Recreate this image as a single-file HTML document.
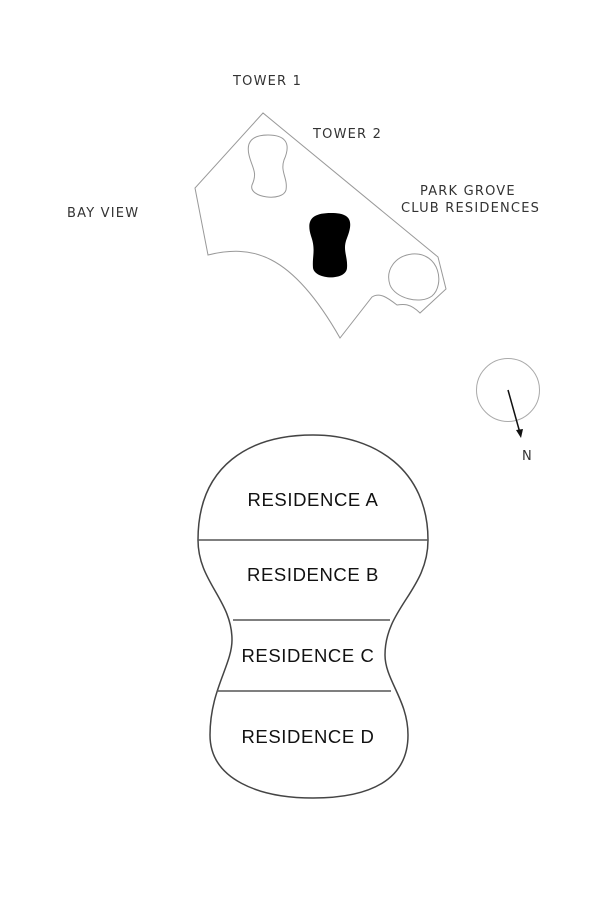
<!DOCTYPE html>
<html><head><style>
html,body{margin:0;padding:0;background:#fff;}
svg{display:block;}
.l{font-family:"DejaVu Sans","Liberation Sans",sans-serif;font-size:13px;fill:#333;letter-spacing:1.2px;}
.r{font-family:"Liberation Sans",sans-serif;font-size:18.5px;fill:#111;letter-spacing:0.6px;}
</style></head><body>
<svg width="612" height="900" viewBox="0 0 612 900" xmlns="http://www.w3.org/2000/svg">
<text class="l" x="233" y="85">TOWER 1</text>
<text class="l" x="313" y="138">TOWER 2</text>
<text class="l" x="420" y="195">PARK GROVE</text>
<text class="l" x="401" y="212">CLUB RESIDENCES</text>
<text class="l" x="67" y="217">BAY VIEW</text>
<path d="M263,113 L195,188 L208,255 C250,245 290,250 340,338 L372,297 C380,292 388,298 397,305 C403,304 410,303 420,313 L446,289 L438,257 Z" fill="none" stroke="#999" stroke-width="1"/>
<path d="M268,135 C252,135 246,142 249,155 C252,168 258,172 252,185 C248,198 283,202 286,190 C288,178 280,172 284,160 C292,142 284,135 268,135 Z" fill="none" stroke="#999" stroke-width="1"/>
<path d="M331,213 C312,213 306,220 311,236 C316,250 312,256 313,268 C315,280 346,281 347,268 C348,256 342,250 347,238 C354,220 350,213 331,213 Z" fill="#000"/>
<path d="M412,254 C395,256 385,270 390,285 C395,298 420,305 432,296 C445,285 440,252 412,254 Z" fill="none" stroke="#999" stroke-width="1"/>
<circle cx="508" cy="390" r="31.5" fill="none" stroke="#aaa" stroke-width="1"/>
<line x1="508" y1="390" x2="520" y2="433" stroke="#111" stroke-width="1.5"/>
<path d="M516,430 L521,438 L523,429 Z" fill="#111"/>
<text class="l" x="522" y="460">N</text>
<path d="M313,435 C250,435 198,465 198,540 C198,582 232,600 232,640 C232,665 210,690 210,735 C210,780 260,798 313,798 C370,798 408,780 408,735 C408,700 385,680 385,655 C385,608 428,590 428,540 C428,470 375,435 313,435 Z" fill="none" stroke="#444" stroke-width="1.5"/>
<line x1="198" y1="540" x2="428" y2="540" stroke="#555" stroke-width="1.5"/>
<line x1="233" y1="620" x2="390" y2="620" stroke="#555" stroke-width="1.5"/>
<line x1="217" y1="691" x2="391" y2="691" stroke="#555" stroke-width="1.5"/>
<text class="r" x="313" y="506" text-anchor="middle">RESIDENCE A</text>
<text class="r" x="313" y="581" text-anchor="middle">RESIDENCE B</text>
<text class="r" x="308" y="662" text-anchor="middle">RESIDENCE C</text>
<text class="r" x="308" y="743" text-anchor="middle">RESIDENCE D</text>
</svg>
</body></html>
